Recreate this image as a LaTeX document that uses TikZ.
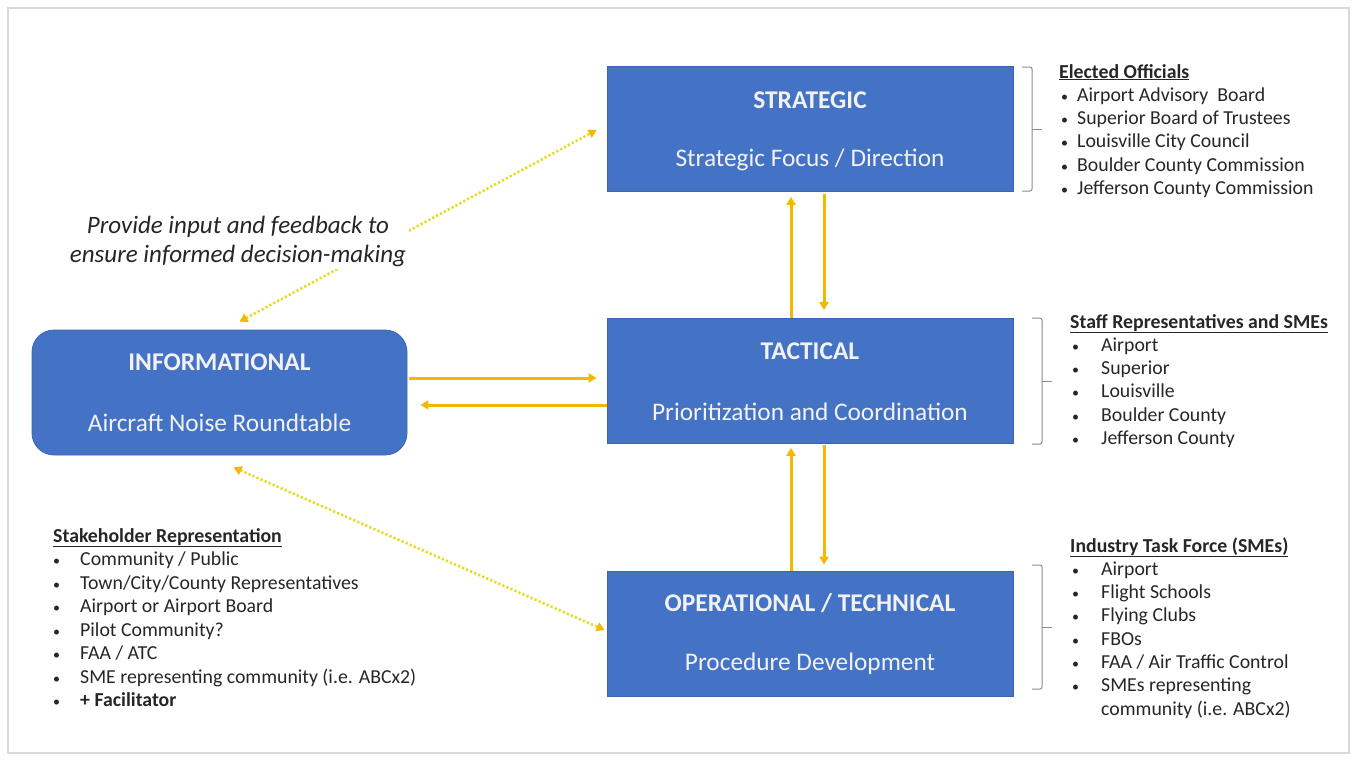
\documentclass[tikz,border=0pt]{standalone}
\usepackage{fontspec}
\setmainfont{Carlito}
\usetikzlibrary{arrows.meta,calc}
\definecolor{boxblue}{HTML}{4472C4}
\definecolor{boxedge}{HTML}{3B65B3}
\definecolor{gold}{HTML}{F5B800}
\definecolor{dotyel}{HTML}{E6DC1E}
\definecolor{txtwhite}{HTML}{F2F2F2}
\definecolor{brgray}{HTML}{8C8C8C}
\tikzset{
  levelbox/.style={draw=boxedge, line width=0.8pt, fill=boxblue, minimum width=406pt, minimum height=125pt, inner sep=0pt},
  infobox/.style={levelbox, minimum width=375pt, rounded corners=22pt},
  boxtitle/.style={text=txtwhite, font=\fontsize{25.5}{30}\selectfont\bfseries, inner sep=0pt},
  boxsub/.style={text=txtwhite, font=\fontsize{25.3}{30}\selectfont, inner sep=0pt},
  oarrow/.style={draw=gold, line width=3pt, -{Triangle[length=8pt,width=9pt]}},
  dotarrow/.style={draw=dotyel, line width=2.6pt, dash pattern=on 2.2pt off 2.2pt, {Triangle[length=8pt,width=9pt,fill=gold,color=gold]}-{Triangle[length=8pt,width=9pt,fill=gold,color=gold]}},
  listtxt/.style={font=\fontsize{19.8}{23}\selectfont, text=black!85, inner sep=0pt, anchor=base west},
  listbul/.style={listtxt, font=\fontsize{14}{16}\selectfont},
  listhead/.style={listtxt, font=\fontsize{19.8}{23}\selectfont\bfseries},
  bracket/.style={draw=brgray, line width=1pt, rounded corners=2pt},
  note/.style={font=\fontsize{25}{29}\selectfont\itshape, text=black!85, align=center, fill=white, inner sep=3pt}
}
\begin{document}
\begin{tikzpicture}[x=1pt,y=-1pt]
\useasboundingbox (0,0) rectangle (1357,761);
\draw[black!15, line width=1.5pt] (8,8) rectangle (1349,753);

% boxes
\node[levelbox] (strat) at (810,129) {};
\node[levelbox] (tact) at (810,381) {};
\node[levelbox] (oper) at (810,633.5) {};
\node[infobox] (info) at (219.5,392.5) {};

\node[boxtitle] (stratT) at ([yshift=29pt]strat.center) {STRATEGIC};
\node[boxsub] (stratS) at ([yshift=-31pt]strat.center) {Strategic Focus / Direction};
\node[boxtitle] (tactT) at ([yshift=30pt]tact.center) {TACTICAL};
\node[boxsub] (tactS) at ([yshift=-31pt]tact.center) {Prioritization and Coordination};
\node[boxtitle] (operT) at ([yshift=30pt]oper.center) {OPERATIONAL / TECHNICAL};
\node[boxsub] (operS) at ([yshift=-30pt]oper.center) {Procedure Development};
\node[boxtitle] (infoT) at ([yshift=30pt]info.center) {INFORMATIONAL};
\node[boxsub] (infoS) at ([yshift=-30pt]info.center) {Aircraft Noise Roundtable};

% solid arrows
\draw[oarrow] ($(info.east)+(2,-14.5)$) -- ($(tact.west)+(-10,-3)$);
\draw[oarrow] ($(tact.west)+(0,24)$) -- ($(info.east)+(13,12.5)$);
\draw[oarrow] ($(tact.north)+(-19,0)$) -- ($(strat.south)+(-19,5)$);
\draw[oarrow] ($(strat.south)+(14,2)$) -- ($(tact.north)+(14,-8)$);
\draw[oarrow] ($(oper.north)+(-19,0)$) -- ($(tact.south)+(-19,4)$);
\draw[oarrow] ($(tact.south)+(14,1)$) -- ($(oper.north)+(14,-6)$);

% dotted arrows
\draw[dotarrow] ($(info.north)+(20,-8)$) -- ($(strat.west)+(-10,1)$);
\draw[dotarrow] ($(info.south)+(14,12)$) -- ($(oper.west)+(-2,-3.5)$);

\node[note] (notetxt) at (238,241) {Provide input and feedback to\\ensure informed decision-making};

% brackets
\draw[bracket] (1022,67) -- (1032,67) -- (1032,191) -- (1022,191);
\draw[bracket] (1032,129) -- (1042,129);
\draw[bracket] (1032,318) -- (1042,318) -- (1042,444) -- (1032,444);
\draw[bracket] (1042,381) -- (1052,381);
\draw[bracket] (1032,565) -- (1042,565) -- (1042,689) -- (1032,689);
\draw[bracket] (1042,627) -- (1052,627);

% Elected officials
\node[listhead] (h1) at (1059,78) {\underline{Elected Officials}};
\foreach \t [count=\i] in {Airport Advisory\ \ Board, Superior Board of Trustees, Louisville City Council, Boulder County Commission, Jefferson County Commission}{
  \node[listbul] (e\i b) at (1061,{78+23.3*\i}) {•};
  \node[listtxt] (e\i) at (1077,{78+23.3*\i}) {\t};
}
% Staff
\node[listhead] (h2) at (1070,328) {\underline{Staff Representatives and SMEs}};
\foreach \t [count=\i] in {Airport, Superior, Louisville, Boulder County, Jefferson County}{
  \node[listbul] (s\i b) at (1072,{328+23.3*\i}) {•};
  \node[listtxt] (s\i) at (1101,{328+23.3*\i}) {\t};
}
% Industry
\node[listhead] (h3) at (1070,552) {\underline{Industry Task Force (SMEs)}};
\foreach \t [count=\i] in {Airport, Flight Schools, Flying Clubs, FBOs, FAA / Air Traffic Control, SMEs representing}{
  \node[listbul] (n\i b) at (1072,{552+23.3*\i}) {•};
  \node[listtxt] (n\i) at (1101,{552+23.3*\i}) {\t};
}
\node[listtxt] (n7) at (1101,{552+23.3*7}) {community (i.e. ABCx2)};
% Stakeholder
\node[listhead] (h4) at (53,542) {\underline{Stakeholder Representation}};
\foreach \t [count=\i] in {Community / Public, Town/City/County Representatives, Airport or Airport Board, Pilot Community?, FAA / ATC, SME representing community (i.e. ABCx2)}{
  \node[listbul] (k\i b) at (53,{542+23.5*\i}) {•};
  \node[listtxt] (k\i) at (80,{542+23.5*\i}) {\t};
}
\node[listbul] (k7b) at (53,{542+23.5*7}) {•};
\node[listtxt, font=\fontsize{19.8}{23}\selectfont\bfseries] (k7) at (80,{542+23.5*7}) {+ Facilitator};
\end{tikzpicture}
\end{document}
